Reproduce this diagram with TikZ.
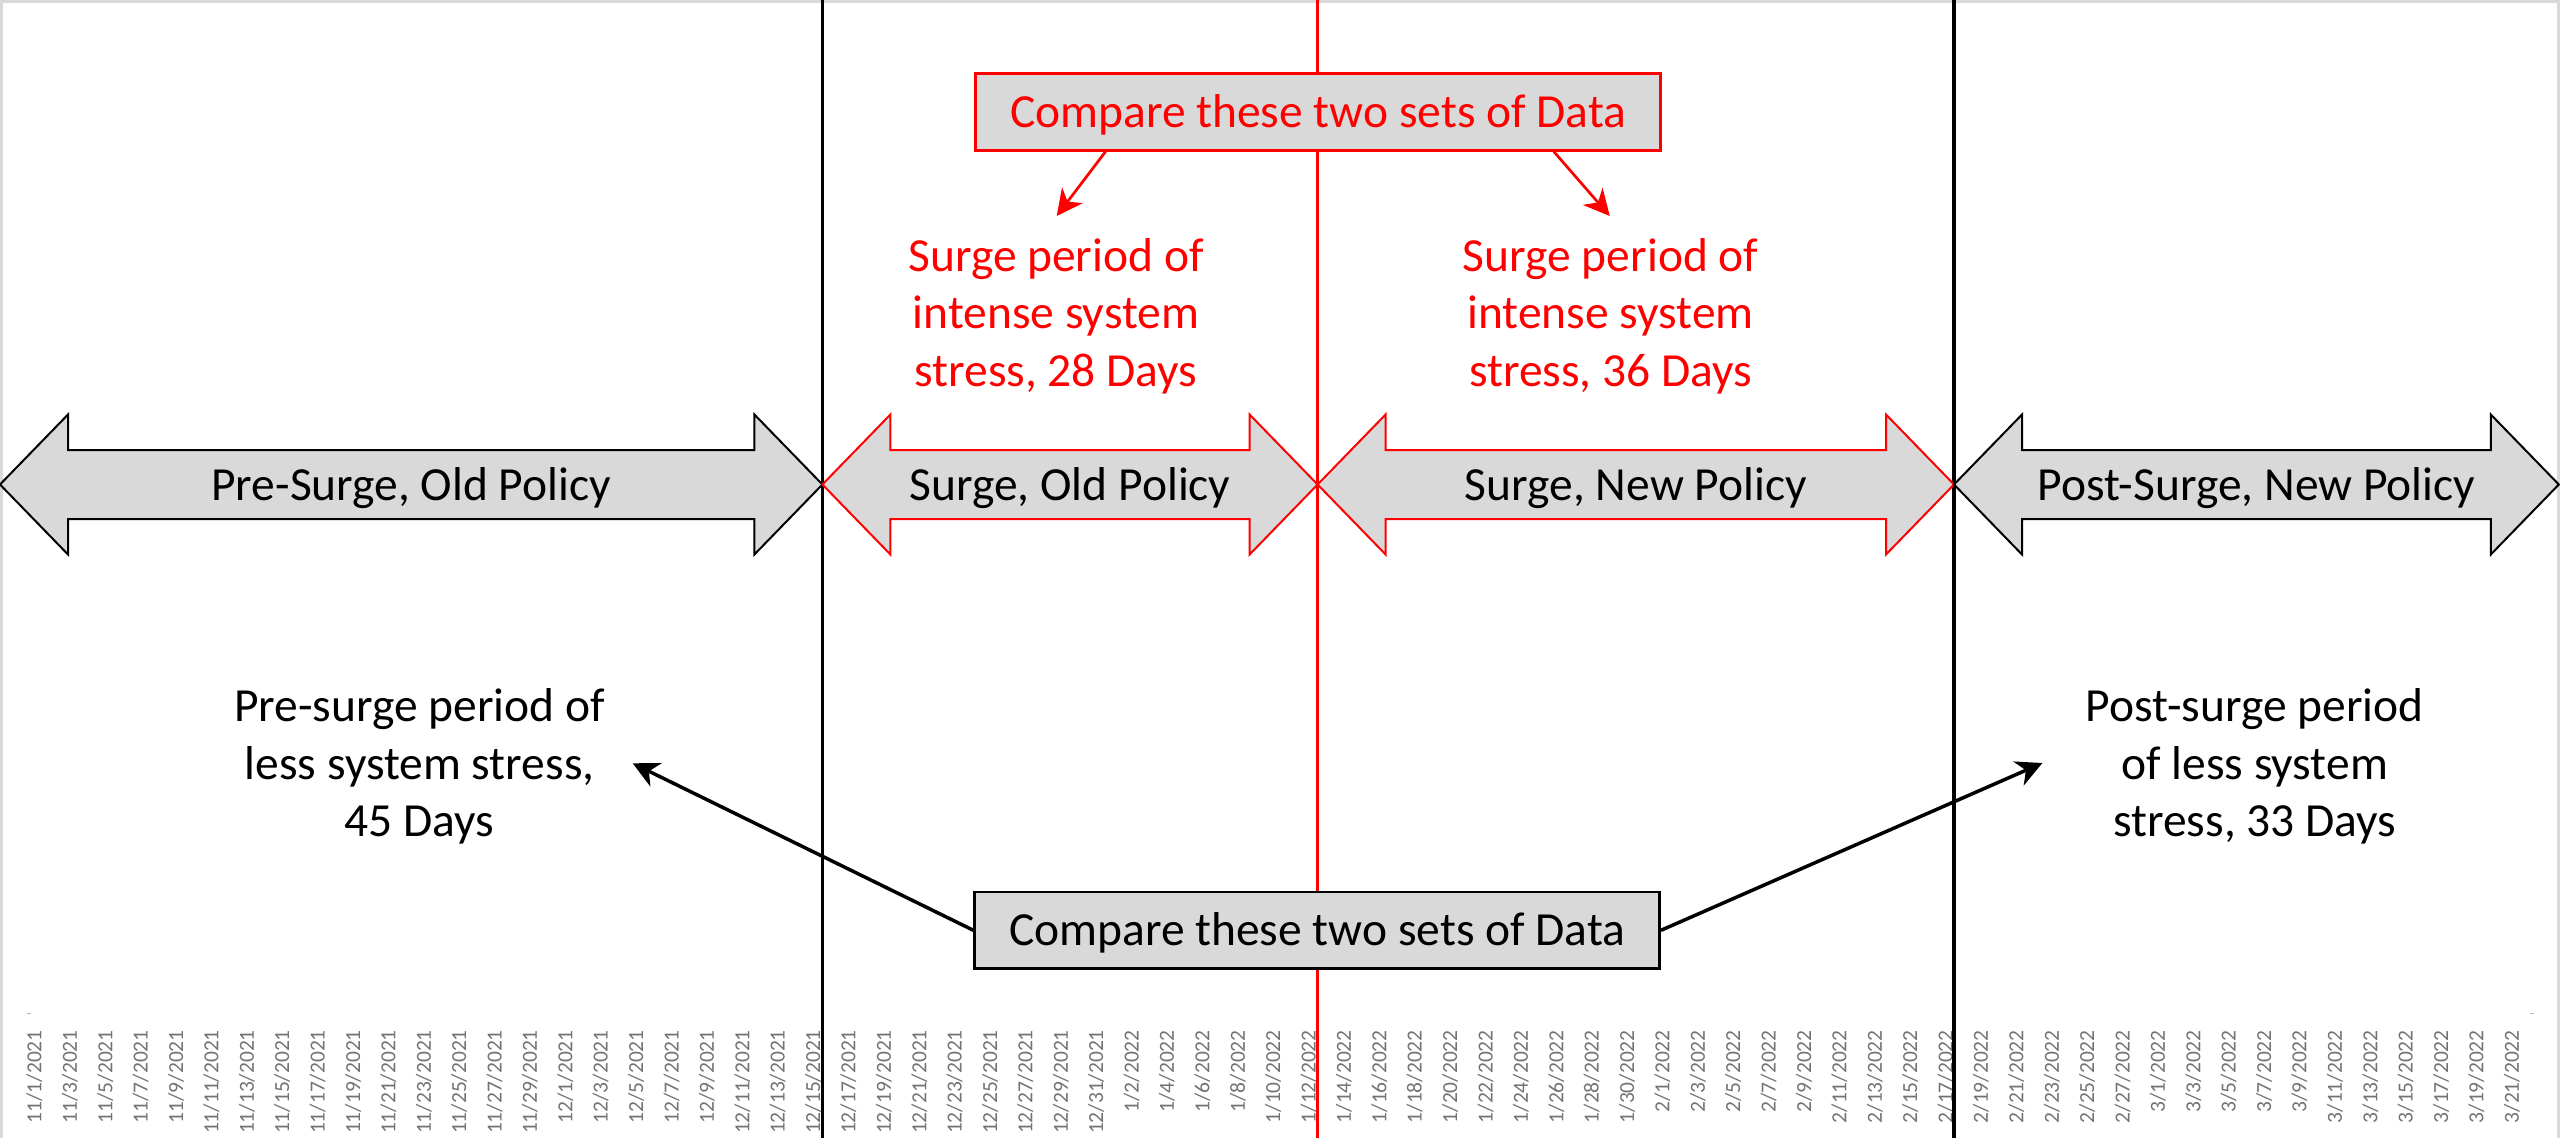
\documentclass[tikz,border=0pt]{standalone}
\usepackage{fontspec}
\setmainfont{Carlito}
\usetikzlibrary{arrows.meta,calc}
\definecolor{boxgray}{RGB}{217,217,217}
\definecolor{pptred}{RGB}{255,0,0}
\definecolor{axisgray}{RGB}{115,115,115}
\definecolor{framegray}{RGB}{217,217,217}
\newcommand\dblarrow[5]{%
  \pgfmathsetmacro\dblA{#1+68}%
  \pgfmathsetmacro\dblB{#2-68}%
  \pgfmathsetmacro\dblM{(#1+#2)/2}%
  \draw[#3] (#1,484.5) -- (\dblA,414.5) -- (\dblA,450) -- (\dblB,450) -- (\dblB,414.5) -- (#2,484.5) -- (\dblB,554.5) -- (\dblB,519) -- (\dblA,519) -- (\dblA,554.5) -- cycle;
  \node[bigtext] (#4) at (\dblM,484.5) {#5};%
}
\begin{document}
\begin{tikzpicture}[x=1pt,y=-1pt,
  font=\fontsize{47.5}{57.5}\selectfont,
  bigtext/.style={inner sep=0pt, text height=36pt, text depth=5pt},
  para/.style={inner sep=0pt, align=center},
  arrowshape/.style={fill=boxgray, line width=2pt, line join=miter},
  blackshape/.style={arrowshape, draw=black},
  redshape/.style={arrowshape, draw=pptred},
  databox/.style={fill=boxgray, minimum width=685pt, minimum height=76.5pt, inner sep=0pt, text height=36pt, text depth=5pt},
  datelabel/.style={rotate=90, anchor=east, inner sep=0pt, text=axisgray, font=\fontsize{21.5}{24}\selectfont, text height=13.6pt, text depth=0pt},
  redpointer/.style={draw=pptred, line width=2.7pt, -{Stealth[length=26pt,width=26pt,inset=8pt]}},
  blackpointer/.style={draw=black, line width=3.5pt, -{Stealth[length=26pt,width=26pt,inset=8pt]}},
  vline/.style={line width=3.3pt}
]
\useasboundingbox (0,0) rectangle (2560,1138);
% frame
\draw[framegray, line width=3pt] (1.5,1138) -- (1.5,1.5) -- (2558.5,1.5) -- (2558.5,1138);
% date axis labels
\foreach \d [count=\i from 0] in {11/1/2021,11/3/2021,11/5/2021,11/7/2021,11/9/2021,11/11/2021,11/13/2021,11/15/2021,11/17/2021,11/19/2021,11/21/2021,11/23/2021,11/25/2021,11/27/2021,11/29/2021,12/1/2021,12/3/2021,12/5/2021,12/7/2021,12/9/2021,12/11/2021,12/13/2021,12/15/2021,12/17/2021,12/19/2021,12/21/2021,12/23/2021,12/25/2021,12/27/2021,12/29/2021,12/31/2021,1/2/2022,1/4/2022,1/6/2022,1/8/2022,1/10/2022,1/12/2022,1/14/2022,1/16/2022,1/18/2022,1/20/2022,1/22/2022,1/24/2022,1/26/2022,1/28/2022,1/30/2022,2/1/2022,2/3/2022,2/5/2022,2/7/2022,2/9/2022,2/11/2022,2/13/2022,2/15/2022,2/17/2022,2/19/2022,2/21/2022,2/23/2022,2/25/2022,2/27/2022,3/1/2022,3/3/2022,3/5/2022,3/7/2022,3/9/2022,3/11/2022,3/13/2022,3/15/2022,3/17/2022,3/19/2022,3/21/2022}
  \node[datelabel] (d\i) at ({34.7+35.39*\i},1030) {\d};
\draw[axisgray!50, line width=1.5pt] (26.5,1013.5) -- (30.5,1013.5);
\draw[axisgray!50, line width=1.5pt] (2530,1013.5) -- (2534,1013.5);
% period separators
\draw[vline, black] (822.4,0) -- (822.4,1138);
\draw[vline, pptred] (1317.6,0) -- (1317.6,1138);
\draw[vline, black] (1954,0) -- (1954,1138);
% period arrows
\dblarrow{0}{822.4}{blackshape}{pre}{Pre-Surge, Old Policy}
\dblarrow{822.4}{1317.6}{redshape}{surgeold}{Surge, Old Policy}
\dblarrow{1317.6}{1954}{redshape}{surgenew}{Surge, New Policy}
\dblarrow{1954}{2558.8}{blackshape}{post}{Post-Surge, New Policy}
% compare boxes
\node[databox, draw=pptred, line width=2.8pt, text=pptred] (tbox) at (1318.2,112) {Compare these two sets of Data};
\node[databox, draw=black, line width=2.5pt] (bbox) at (1317.2,930.3) {Compare these two sets of Data};
% descriptive texts
\node[para, text=pptred] (sold) at (1056,316) {Surge period of\\intense system\\stress, 28 Days};
\node[para, text=pptred] (snew) at (1610.6,316) {Surge period of\\intense system\\stress, 36 Days};
\node[para] (lpre) at (419.6,766.4) {Pre-surge period of\\less system stress,\\45 Days};
\node[para] (lpost) at (2254.7,766.4) {Post-surge period\\of less system\\stress, 33 Days};
% pointer ends
\coordinate (rtipL) at (1056.7,216);
\coordinate (rtipR) at (1609.8,216);
\coordinate (btipL) at (632.7,763.3);
\coordinate (btipR) at (2042.4,763);
% pointers
\draw[redpointer] ($(tbox.south west)!0.1907!(tbox.south east)$) -- (rtipL);
\draw[redpointer] ($(tbox.south west)!0.8426!(tbox.south east)$) -- (rtipR);
\draw[blackpointer] (bbox.west) -- (btipL);
\draw[blackpointer] (bbox.east) -- (btipR);
\end{tikzpicture}
\end{document}
